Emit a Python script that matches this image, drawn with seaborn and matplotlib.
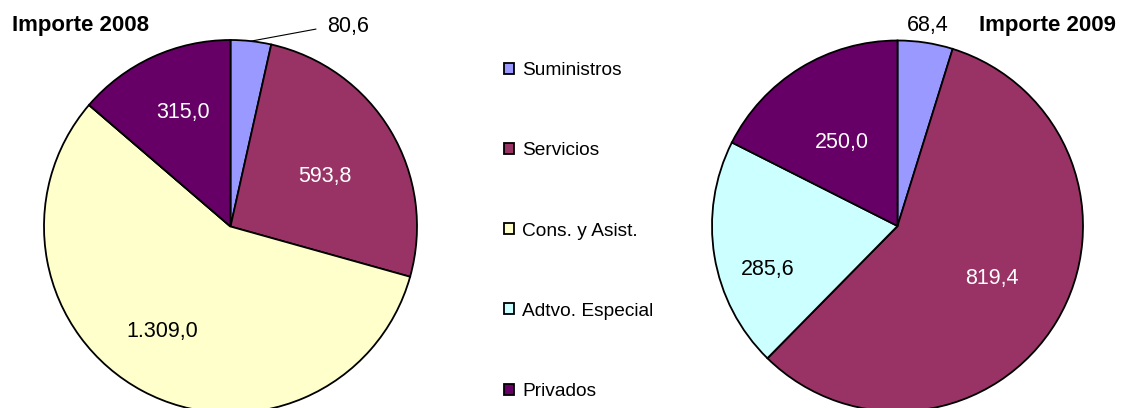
import numpy as np
import matplotlib
matplotlib.use('Agg')
import matplotlib.pyplot as plt
import seaborn as sns

categories = ['Suministros', 'Servicios', 'Cons. y Asist.', 'Adtvo. Especial', 'Privados']
importe_2008 = [80.6, 593.8, 1309.0, 0.0, 315.0]
importe_2009 = [68.4, 819.4, 0.0, 285.6, 250.0]
titles = ['Importe 2008', 'Importe 2009']

colors = ['#9999FF', '#993366', '#FFFFCC', '#CCFFFF', '#660066']
label_colors = ['black', 'white', 'black', 'black', 'white']

sns.set_theme(style='white')
plt.rcParams['font.family'] = ['Liberation Sans', 'DejaVu Sans']
plt.rcParams['text.color'] = 'black'


def fmt_es(v):
    s = f'{v:,.1f}'
    return s.replace(',', '#').replace('.', ',').replace('#', '.')


def draw_pie(ax, values, label_dist, label_rot):
    wedges, _ = ax.pie(values, colors=colors, startangle=90, counterclock=False,
                       wedgeprops=dict(edgecolor='black', linewidth=1.3))
    for w in wedges:
        w.set_clip_on(False)
    ax.set_xlim(-1, 1)
    ax.set_ylim(-1, 1)
    ax.set_aspect('equal')
    ax.axis('off')
    for i, w in enumerate(wedges):
        if values[i] <= 0 or label_dist[i] is None:
            continue
        ang = np.deg2rad((w.theta1 + w.theta2) / 2 + label_rot[i])
        d = label_dist[i]
        col = label_colors[i] if d < 1 else 'black'
        ax.text(d * np.cos(ang), d * np.sin(ang), fmt_es(values[i]),
                ha='center', va='center', fontsize=15.5, color=col, clip_on=False)
    return wedges


fig = plt.figure(figsize=(11.21, 4.08), dpi=100)
ax1 = fig.add_axes([44 / 1121, -5 / 408, 373 / 1121, 373 / 408])
ax2 = fig.add_axes([712 / 1121, -3.5 / 408, 371 / 1121, 371 / 408])

w1 = draw_pie(ax1, importe_2008, [None, 0.57, 0.67, None, 0.66], [0, -3, -5, 0, -2])
# small slice label goes outside with a leader line
mid = np.deg2rad((w1[0].theta1 + w1[0].theta2) / 2)
ax1.annotate(fmt_es(importe_2008[0]), xy=(np.cos(mid), np.sin(mid)),
             xytext=(0.52, 1.07), ha='left', va='center', fontsize=15.5,
             annotation_clip=False,
             arrowprops=dict(arrowstyle='-', color='black', lw=0.8,
                             relpos=(0, 0.5), shrinkA=6, shrinkB=0))

draw_pie(ax2, importe_2009, [1.095, 0.58, None, 0.74, 0.54], [0, 2, 0, 9, 2])

fig.text(12 / 1121, 1 - 25 / 408, titles[0], ha='left', va='center',
         fontsize=16, fontweight='bold')
fig.text(1116 / 1121, 1 - 26 / 408, titles[1], ha='right', va='center',
         fontsize=16, fontweight='bold')

fig.legend(w1, categories, loc='upper left',
           bbox_to_anchor=(504 / 1121, 1 - 62 / 408), frameon=False,
           fontsize=13.8, borderpad=0, borderaxespad=0,
           handlelength=0.5, handleheight=0.5, handletextpad=0.45,
           labelspacing=3.3)

fig.savefig('out.png', dpi=100)
plt.close()
